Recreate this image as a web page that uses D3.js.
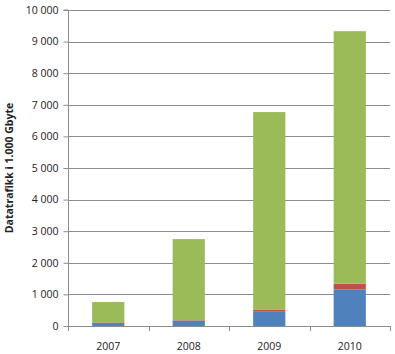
<!DOCTYPE html>
<html>
<head>
<meta charset="utf-8">
<script src="https://cdn.jsdelivr.net/npm/d3@7"></script>
<style>
  body { margin: 0; background: #fff; }
  text { font-family: "Open Sans", "Liberation Sans", sans-serif; fill: #222; }
</style>
</head>
<body>
<div id="chart"></div>
<script>
/* Datatrafikk 2007-2010, stacked bars */

const years = ["2007", "2008", "2009", "2010"];
const blue = [100, 170, 450, 1160];
const red = [15, 15, 60, 180];
const green = [645, 2565, 6260, 7990];
const yTicks = [0, 1000, 2000, 3000, 4000, 5000, 6000, 7000, 8000, 9000, 10000];

const width = 395,
      height = 354,
      margin = ({ top: 10, right: 5, bottom: 28, left: 68 });

const colors = ["#4f81bd", "#c0504d", "#9bbb59"];

let rows = years.map((y, i) => ({ year: y, blue: blue[i], red: red[i], green: green[i] }));
let stack = d3.stack().keys(["blue", "red", "green"])(rows);

let svg = d3.select("#chart")
    .append("svg")
    .attr("width", width)
    .attr("height", height);

let x = d3.scaleBand()
    .domain(years)
    .range([margin.left, width - margin.right])
    .paddingInner(0.6)
    .paddingOuter(0.3);

let y = d3.scaleLinear()
    .domain([0, 10000])
    .range([height - margin.bottom, margin.top]);

const fmt = d => d3.format(",")(d).replace(",", " ");

// gridlines
svg.append("g")
    .selectAll("line")
    .data(yTicks.slice(1))
    .join("line")
    .attr("x1", margin.left)
    .attr("x2", width - margin.right)
    .attr("y1", d => Math.round(y(d)) + 0.5)
    .attr("y2", d => Math.round(y(d)) + 0.5)
    .attr("stroke", "#8c8c8c")
    .attr("stroke-width", 1);

// bars
svg.append("g")
    .selectAll("g")
    .data(stack)
    .join("g")
    .attr("fill", (d, i) => colors[i])
    .selectAll("rect")
    .data(d => d)
    .join("rect")
    .attr("x", d => x(d.data.year))
    .attr("width", x.bandwidth())
    .attr("y", d => y(d[1]))
    .attr("height", d => y(d[0]) - y(d[1]));

// y axis
let yAxis = svg.append("g")
    .attr("transform", `translate(${margin.left + 0.5},0)`)
    .call(d3.axisLeft(y).tickValues(yTicks).tickFormat(fmt).tickSize(5).tickPadding(5));
yAxis.select(".domain").attr("stroke", "#8c8c8c").attr("d", `M-5,${y(10000)}H0V${y(0)}`);
yAxis.selectAll(".tick line").attr("stroke", "#8c8c8c");
yAxis.selectAll("text").style("font-size", "10.5px").attr("fill", "#222");

// x axis
let xAxis = svg.append("g")
    .attr("transform", `translate(0,${Math.round(y(0)) + 0.5})`)
    .call(d3.axisBottom(x).tickSize(0).tickPadding(16));
xAxis.select(".domain").attr("stroke", "#8c8c8c").attr("d", `M${margin.left},0H${width - margin.right}`);
xAxis.selectAll("text").style("font-size", "10.5px").attr("fill", "#222");

// separators between categories
svg.append("g")
    .selectAll("line")
    .data(d3.range(years.length + 1))
    .join("line")
    .attr("x1", i => Math.round(margin.left + i * (width - margin.right - margin.left) / years.length) + 0.5)
    .attr("x2", i => Math.round(margin.left + i * (width - margin.right - margin.left) / years.length) + 0.5)
    .attr("y1", y(0))
    .attr("y2", y(0) + 5)
    .attr("stroke", "#8c8c8c");

// y title
svg.append("text")
    .attr("transform", `translate(13,${(y(0) + y(10000)) / 2}) rotate(-90)`)
    .attr("text-anchor", "middle")
    .style("font-size", "10.5px")
    .style("font-weight", "bold")
    .text("Datatrafikk i 1.000 Gbyte");
</script>
</body>
</html>
